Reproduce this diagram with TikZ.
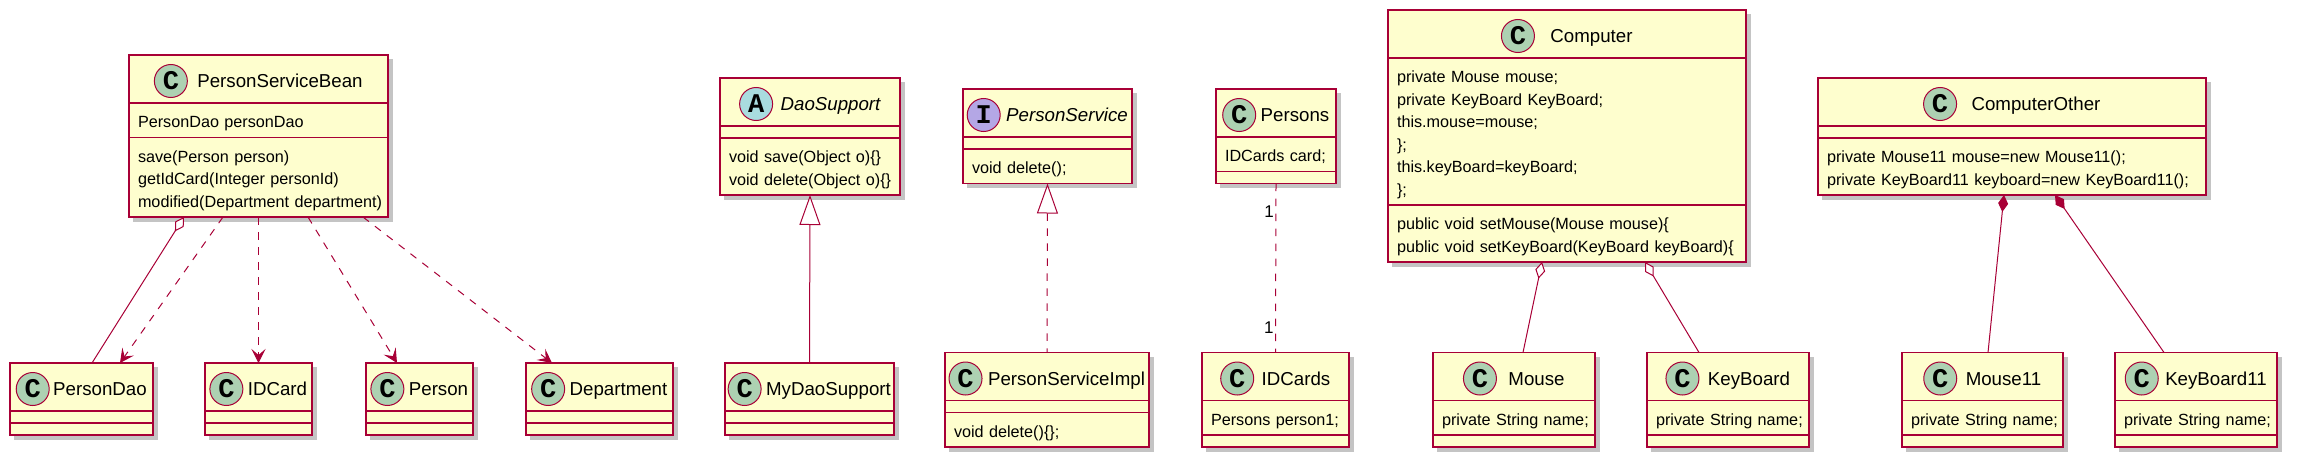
\documentclass[tikz,border=0pt]{standalone}
\usepackage{fontspec}
\setmainfont{Liberation Sans}
\newfontfamily\badgefont{Liberation Mono}
\usetikzlibrary{arrows.meta,positioning,fit}

\definecolor{umlred}{RGB}{168,0,54}
\definecolor{umlfill}{RGB}{254,254,206}
\definecolor{umlshade}{RGB}{196,196,196}
\definecolor{cgreen}{RGB}{173,209,178}
\definecolor{ablue}{RGB}{169,220,223}
\definecolor{ipurple}{RGB}{180,167,229}

\newcommand{\umlpart}[3]{%
  \if\relax\detokenize{#3}\relax
    \node[part, below=0pt of #2] (#1) {};
  \else
    \node[part, below=0pt of #2] (#1) {\leftskip=8pt\relax\rule{0pt}{18.5pt}#3\rule[-4pt]{0pt}{4pt}\par};
  \fi}

\newcommand{\umlclass}[8]{%
  \pgfmathsetmacro{\umltw}{#3-2}%
  \node[head, minimum width=#3pt, anchor=north west] (#1-h) at (#2) {};
  \node[cname, xshift={(33+#8)/2}, yshift=-2pt] (#1-n) at (#1-h.center) {#5};
  \node[badge#4, left=#8pt of #1-n] (#1-b) {#4};
  \umlpart{#1-f}{#1-h}{#6}
  \umlpart{#1-m}{#1-f}{#7}
  \node[frame, fit=(#1-h)(#1-m)] (#1) {};
  \fill[shade] ([shift={(0.75pt,-4pt)}]#1.north east) rectangle ([shift={(4.75pt,-4.75pt)}]#1.south east);
  \fill[shade] ([shift={(4pt,-0.75pt)}]#1.south west) rectangle ([shift={(4.75pt,-4.75pt)}]#1.south east);}

\begin{document}
\begin{tikzpicture}[
  x=1pt, y=-1pt,
  head/.style={draw=umlred, fill=umlfill, line width=1.5pt, outer sep=0pt, inner sep=0pt, minimum height=48pt},
  part/.style={draw=umlred, fill=umlfill, line width=1.5pt, outer sep=0pt, inner xsep=1pt, inner ysep=6pt,
    text width=\umltw pt, align=left, font=\fontsize{16.2}{22.5}\selectfont},
  cname/.style={inner sep=0pt, outer sep=0pt, text height=13.4pt, text depth=0pt, font=\fontsize{18.7}{22}\selectfont},
  badge/.style={circle, draw=umlred, line width=1pt, minimum size=33pt, inner sep=0pt, outer sep=0pt,
    font=\badgefont\bfseries\fontsize{27}{27}\selectfont},
  badgeC/.style={badge, fill=cgreen},
  badgeA/.style={badge, fill=ablue},
  badgeI/.style={badge, fill=ipurple},
  frame/.style={inner sep=0pt, outer sep=0pt},
  shade/.style={umlshade},
  link/.style={draw=umlred, line width=1pt},
  dotline/.style={dash pattern=on 7.5pt off 7.5pt},
  depend/.style={link, dotline, -{Stealth[length=14pt, width=14pt, inset=6pt]}},
  aggreg/.style={link, {Diamond[open, fill=white, length=17pt, width=10pt]}-},
  compos/.style={link, {Diamond[length=17pt, width=10pt]}-},
  inherit/.style={link, {Triangle[open, fill=white, length=30pt, width=21pt]}-},
  realize/.style={inherit, dotline},
  mult/.style={font=\fontsize{17}{17}\selectfont, inner sep=1.5pt}
]
\useasboundingbox (0,0) rectangle (2297,466);

\umlclass{psb}{129,55}{259}{C}{PersonServiceBean}{PersonDao personDao}{save(Person person)\\getIdCard(Integer personId)\\modified(Department department)}{10}
\umlclass{pdao}{10,363}{143}{C}{PersonDao}{}{}{4}
\umlclass{idcard}{205,363}{107}{C}{IDCard}{}{}{5}
\umlclass{person}{366,363}{107}{C}{Person}{}{}{5}
\umlclass{dept}{526,363}{147}{C}{Department}{}{}{5}
\umlclass{daosup}{720,78}{180}{A}{\itshape DaoSupport}{}{void save(Object o)\{\}\\void delete(Object o)\{\}}{8}
\umlclass{mydao}{725,363}{169}{C}{MyDaoSupport}{}{}{5}
\umlclass{psvc}{963,89}{169}{I}{\itshape PersonService}{}{void delete();}{6}
\umlclass{psimpl}{945,352.5}{204}{C}{PersonServiceImpl}{}{void delete()\{\};}{6}
\umlclass{persons}{1216,89}{120}{C}{Persons}{IDCards card;}{}{5}
\umlclass{idcards}{1202,352.5}{147}{C}{IDCards}{Persons person1;}{}{8}
\umlclass{comp}{1388,10}{358}{C}{Computer}{private Mouse mouse;\\private KeyBoard KeyBoard;\\this.mouse=mouse;\\\};\\this.keyBoard=keyBoard;\\\};}{public void setMouse(Mouse mouse)\{\\public void setKeyBoard(KeyBoard keyBoard)\{}{16}
\umlclass{compo}{1818,78}{388}{C}{ComputerOther}{}{private Mouse11 mouse=new Mouse11();\\private KeyBoard11 keyboard=new KeyBoard11();}{15}
\umlclass{mouse}{1433,352.5}{162}{C}{Mouse}{private String name;}{}{12}
\umlclass{keyb}{1647,352.5}{162}{C}{KeyBoard}{private String name;}{}{9}
\umlclass{mouse11}{1902,352.5}{161}{C}{Mouse11}{private String name;}{}{9}
\umlclass{keyb11}{2115,352.5}{162}{C}{KeyBoard11}{private String name;}{}{7}

\draw[aggreg] ([xshift=55pt]psb.south west) -- ([xshift=82pt]pdao.north west);
\draw[depend] ([xshift=94pt]psb.south west) -- ([xshift=110pt]pdao.north west);
\draw[depend] (psb.south -| idcard.north) -- (idcard.north);
\draw[depend] ([xshift=179pt]psb.south west) -- ([xshift=31pt]person.north west);
\draw[depend] ([xshift=234pt]psb.south west) -- ([xshift=26pt]dept.north west);
\draw[inherit] (daosup.south) -- (mydao.north);
\draw[realize] (psvc.south) -- (psimpl.north);
\draw[link, dotline] (persons.south) -- node[mult, pos=.165, left] {1} node[mult, pos=.855, left] {1} (idcards.north);
\draw[aggreg] ([xshift=154pt]comp.south west) -- ([xshift=90pt]mouse.north west);
\draw[aggreg] ([xshift=257pt]comp.south west) -- ([xshift=52pt]keyb.north west);
\draw[compos] ([xshift=186pt]compo.south west) -- ([xshift=86pt]mouse11.north west);
\draw[compos] ([xshift=237pt]compo.south west) -- ([xshift=49pt]keyb11.north west);

\end{tikzpicture}
\end{document}
